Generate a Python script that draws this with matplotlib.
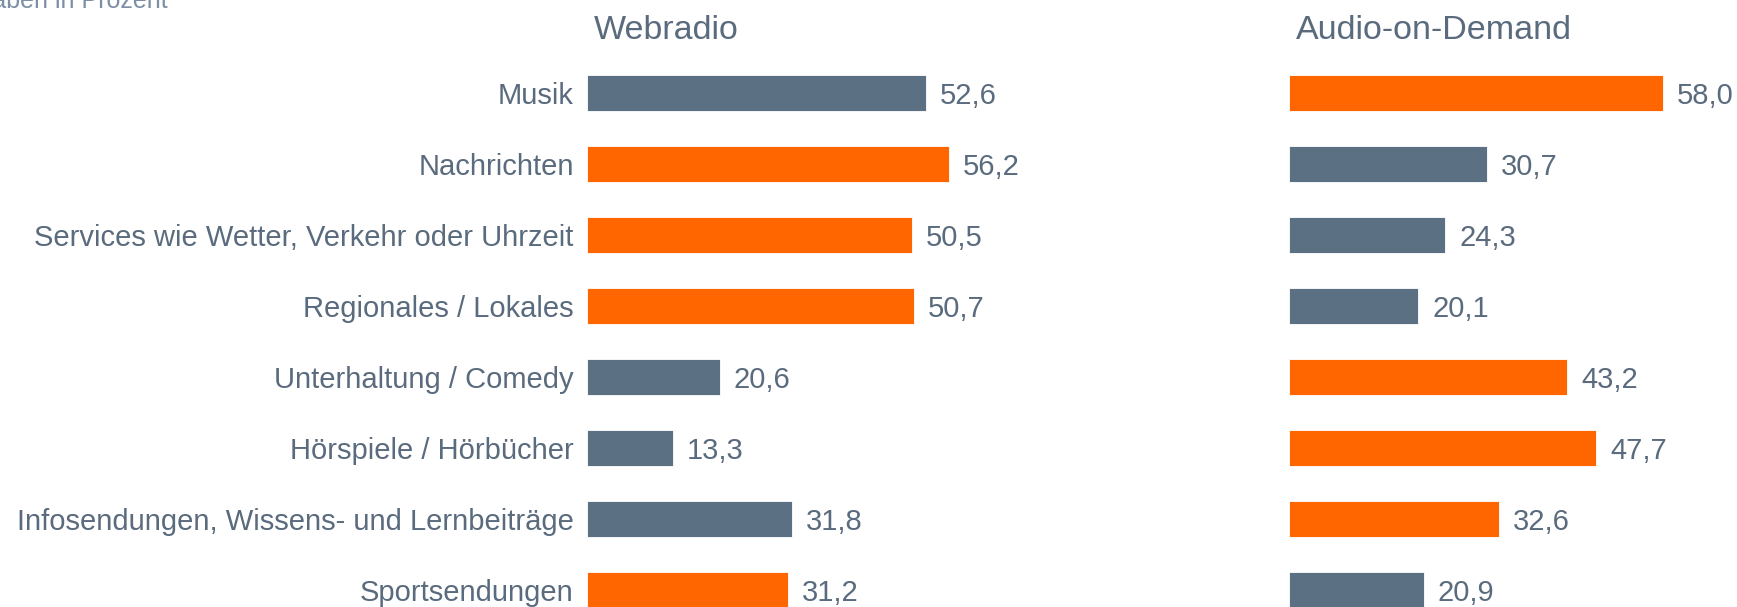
import matplotlib.pyplot as plt

# data
kategorien = ["Musik", "Nachrichten", "Services wie Wetter, Verkehr oder Uhrzeit",
              "Regionales / Lokales", "Unterhaltung / Comedy", "Hörspiele / Hörbücher",
              "Infosendungen, Wissens- und Lernbeiträge", "Sportsendungen"]
webradio = [52.6, 56.2, 50.5, 50.7, 20.6, 13.3, 31.8, 31.2]
aod = [58.0, 30.7, 24.3, 20.1, 43.2, 47.7, 32.6, 20.9]
# which bars are highlighted (orange)
web_hl = [False, True, True, True, False, False, False, True]
aod_hl = [True, False, False, False, True, True, True, False]

GRAU = "#5b7083"
ORANGE = "#ff6600"
TXT = "#5a6b7e"

plt.rcParams['font.family'] = ['Liberation Sans', 'DejaVu Sans']

W, H = 1737, 607
fig = plt.figure(figsize=(W / 100, H / 100), dpi=100)

px_unit = 6.44
xmax = 60
ylim = ((H - 93) / 71.0, -93 / 71.0)


def panel(left_px, werte, hl, titel, labels):
    ax = fig.add_axes([left_px / W, 0, xmax * px_unit / W, 1])
    pos = list(range(len(werte)))
    farben = [ORANGE if h else GRAU for h in hl]
    ax.barh(pos, werte, height=0.52, color=farben, edgecolor="white", linewidth=0.6)
    for p, v in zip(pos, werte):
        ax.annotate(f"{v:.1f}".replace(".", ","), (v, p), xytext=(10, 0),
                    textcoords="offset points", va="center_baseline", ha="left",
                    fontsize=21, color=TXT, annotation_clip=False)
    ax.set_xlim(0, xmax)
    ax.set_ylim(*ylim)
    ax.set_yticks(pos)
    if labels:
        ax.set_yticklabels(kategorien, fontsize=21, color=TXT)
    else:
        ax.set_yticklabels([])
    ax.tick_params(axis="y", length=0, pad=9.5)
    ax.set_xticks([])
    for s in ax.spines.values():
        s.set_visible(False)
    ax.text(7 / px_unit, -93 / 71.0 + 27 / 71.0, titel, fontsize=24.5, color=TXT,
            va="center_baseline", ha="left")
    return ax


panel(587, webradio, web_hl, "Webradio", True)
panel(1289, aod, aod_hl, "Audio-on-Demand", False)

fig.text(-52 / W, 1 - 8 / H, "Angaben in Prozent", fontsize=18, color="#7d8fa5",
         ha="left", va="baseline")

fig.savefig("out.png", dpi=100)
